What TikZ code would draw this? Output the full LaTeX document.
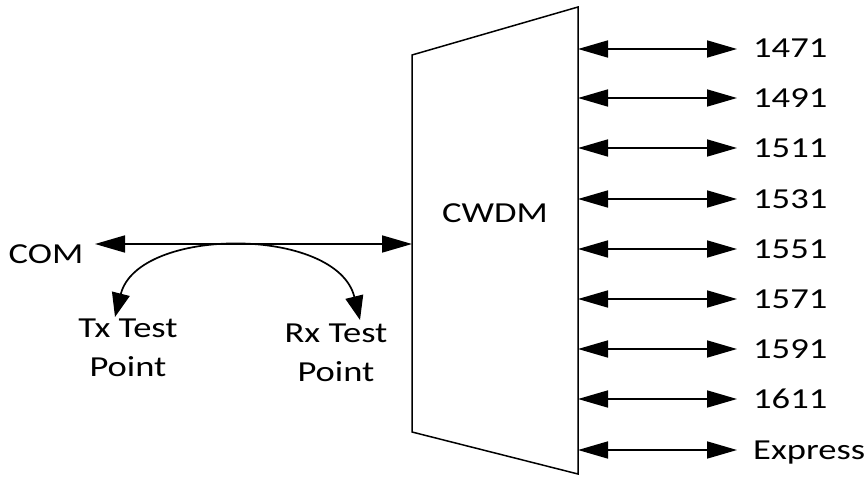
\documentclass[tikz,border=0pt]{standalone}
\usepackage{fontspec}
\setmainfont{Carlito}[FakeStretch=1.26]
\usetikzlibrary{positioning,arrows.meta}

\begin{document}
\begin{tikzpicture}[
	x=1pt,y=-1pt,
	txt/.style={font=\fontsize{29}{39}\selectfont},
	lbl/.style={txt,inner sep=0pt,text height=18pt,text depth=0pt},
	port/.style={txt,inner xsep=16pt,inner ysep=0pt,text height=18pt,text depth=0pt},
	dbl/.style={{Triangle[length=30pt,width=17pt]}-{Triangle[length=30pt,width=17pt]},line width=1.7pt},
	loop/.style={{Triangle[length=24pt,width=18pt]}-{Triangle[length=24pt,width=18pt]},line width=1.7pt}
	]
	\useasboundingbox (0,0) rectangle (866,476);
	% multiplexer body
	\coordinate (tl) at (412,55);
	\coordinate (tr) at (578,7);
	\coordinate (br) at (578,474);
	\coordinate (bl) at (412,432);
	\draw[line width=1.5pt] (tl) -- (tr) -- (br) -- (bl) -- cycle;
	\node[lbl] (cwdm) at (495,213) {CWDM};
	% common side
	\node[lbl] (com) at (46,254) {COM};
	\coordinate (comtip) at (95,244);
	\coordinate (muxin) at (412,244);
	\path[dbl] (comtip) edge (muxin);
	\node[txt,inner sep=0pt,align=center] (tx) at (128,348) {Tx Test\\Point};
	\node[txt,inner sep=0pt,align=center] (rx) at (336,353) {Rx Test\\Point};
	\coordinate (txtip) at (115,317);
	\coordinate (rxtip) at (360,320);
	\draw[loop] (txtip) .. controls (138,226) and (337,226) .. (rxtip);
	% channel ports
	\coordinate (p1) at (578,49);
	\coordinate (p2) at (578,98);
	\coordinate (p3) at (578,148);
	\coordinate (p4) at (578,199);
	\coordinate (p5) at (578,249);
	\coordinate (p6) at (578,299);
	\coordinate (p7) at (578,349);
	\coordinate (p8) at (578,399);
	\coordinate (p9) at (578,450);
	\node[port,right=159pt of p1] (l1) {1471};
	\node[port,right=159pt of p2] (l2) {1491};
	\node[port,right=159pt of p3] (l3) {1511};
	\node[port,right=159pt of p4] (l4) {1531};
	\node[port,right=159pt of p5] (l5) {1551};
	\node[port,right=159pt of p6] (l6) {1571};
	\node[port,right=159pt of p7] (l7) {1591};
	\node[port,right=159pt of p8] (l8) {1611};
	\node[port,right=159pt of p9] (l9) {Express};
	\path[dbl]
	(p1) edge (l1)
	(p2) edge (l2)
	(p3) edge (l3)
	(p4) edge (l4)
	(p5) edge (l5)
	(p6) edge (l6)
	(p7) edge (l7)
	(p8) edge (l8)
	(p9) edge (l9);
\end{tikzpicture}
\end{document}
